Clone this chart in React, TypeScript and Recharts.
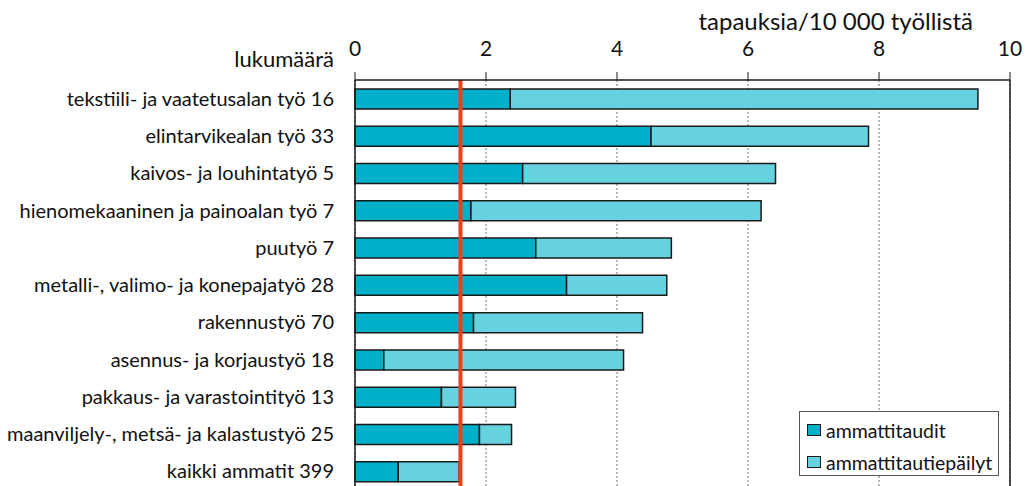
import React from 'react';
import { BarChart, Bar, XAxis, YAxis, CartesianGrid, ReferenceLine, Legend } from 'recharts';

const categories = [
  'tekstiili- ja vaatetusalan työ 16',
  'elintarvikealan työ 33',
  'kaivos- ja louhintatyö 5',
  'hienomekaaninen ja painoalan työ 7',
  'puutyö 7',
  'metalli-, valimo- ja konepajatyö 28',
  'rakennustyö 70',
  'asennus- ja korjaustyö 18',
  'pakkaus- ja varastointityö 13',
  'maanviljely-, metsä- ja kalastustyö 25',
  'kaikki ammatit 399',
];
const ammattitaudit = [2.37, 4.52, 2.56, 1.77, 2.76, 3.23, 1.81, 0.44, 1.32, 1.9, 0.66];
const ammattitautiepailyt = [7.14, 3.32, 3.86, 4.43, 2.07, 1.53, 2.58, 3.66, 1.13, 0.49, 0.93];
const xTicks = [0, 2, 4, 6, 8, 10];
const referenceValue = 1.61;
const seriesNames = ['ammattitaudit', 'ammattitautiepäilyt'];
const axisTitle = 'tapauksia/10 000 työllistä';
const countTitle = 'lukumäärä';

const data = categories.map((name, i) => ({
  name,
  a: ammattitaudit[i],
  b: ammattitautiepailyt[i],
}));

const FONT = 'Lato, "Open Sans", sans-serif';
const DARK = '#00AFC8';
const LIGHT = '#67D2DF';
const RED = '#EE3F16';
const INK = '#1a1a1a';

const LegendBox = () => (
  <div
    style={{
      boxSizing: 'border-box',
      width: 200,
      height: 65,
      border: '1px solid #555',
      background: '#fff',
      fontFamily: FONT,
      fontSize: 19.5,
      color: '#111',
      paddingTop: 4,
    }}
  >
    {seriesNames.map((n, i) => (
      <div key={n} style={{ display: 'flex', alignItems: 'center', height: 28, paddingLeft: 7, marginBottom: i === 0 ? 4 : 0 }}>
        <span
          style={{
            display: 'inline-block',
            boxSizing: 'border-box',
            width: 14,
            height: 12,
            background: i === 0 ? DARK : LIGHT,
            border: `1.5px solid ${INK}`,
            marginRight: 5,
          }}
        />
        <span>{n}</span>
      </div>
    ))}
  </div>
);

export default function App() {
  return (
    <div style={{ position: 'absolute', left: 0, top: 0, width: 1030, height: 500, background: '#fff', fontFamily: FONT }}>
      <div
        style={{
          position: 'absolute',
          left: 573,
          top: 9,
          width: 400,
          textAlign: 'right',
          fontSize: 24,
          lineHeight: '24px',
          color: '#111',
          whiteSpace: 'nowrap',
        }}
      >
        {axisTitle}
      </div>
      <div
        style={{
          position: 'absolute',
          left: 0,
          top: 48,
          width: 334,
          textAlign: 'right',
          fontSize: 22,
          lineHeight: '22px',
          color: '#111',
          whiteSpace: 'nowrap',
        }}
      >
        {countTitle}
      </div>
      <BarChart
        width={1030}
        height={500}
        data={data}
        layout="vertical"
        margin={{ top: 40, right: 20, bottom: 10, left: 0 }}
        style={{ position: 'absolute', left: 0, top: 0 }}
      >
        <CartesianGrid horizontal={false} stroke="#777" strokeDasharray="2 2" />
        <XAxis
          type="number"
          orientation="top"
          domain={[0, 10]}
          ticks={xTicks}
          height={40}
          tickSize={8}
          tickMargin={16}
          tick={{ fontSize: 21, fill: '#111', fontFamily: FONT }}
          axisLine={{ stroke: INK, strokeWidth: 1.5 }}
          tickLine={{ stroke: INK, strokeWidth: 1 }}
        />
        <YAxis
          type="category"
          dataKey="name"
          width={355}
          tickLine={false}
          tickSize={0}
          tickMargin={21}
          interval={0}
          tick={{ fontSize: 20, fill: '#111', fontFamily: FONT }}
          axisLine={{ stroke: INK, strokeWidth: 1.5 }}
        />
        <Bar dataKey="a" name={seriesNames[0]} stackId="s" fill={DARK} stroke={INK} strokeWidth={1.5} barSize={20} isAnimationActive={false} />
        <Bar dataKey="b" name={seriesNames[1]} stackId="s" fill={LIGHT} stroke={INK} strokeWidth={1.5} barSize={20} isAnimationActive={false} />
        <ReferenceLine x={10} stroke={INK} strokeWidth={1.5} />
        <ReferenceLine x={referenceValue} stroke={RED} strokeWidth={4} />
        <Legend
          layout="vertical"
          align="center"
          verticalAlign="middle"
          content={() => <LegendBox />}
          wrapperStyle={{ position: 'absolute', left: 799, top: 411, width: 200, height: 65 }}
        />
      </BarChart>
    </div>
  );
}
